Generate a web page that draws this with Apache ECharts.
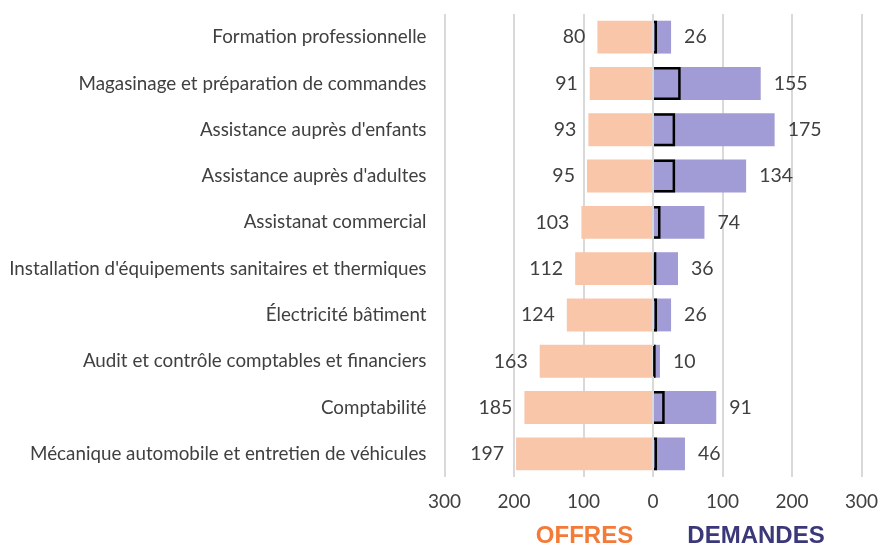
<!DOCTYPE html>
<html>
<head>
<meta charset="utf-8">
<script src="https://cdn.jsdelivr.net/npm/echarts@6/dist/echarts.min.js"></script>
<style>
  html, body { margin: 0; padding: 0; background: #fff; }
  #chart { width: 882px; height: 547px; }
</style>
</head>
<body>
<div id="chart"></div>
<script>
// Métiers, du haut vers le bas
const categories = [
  "Formation professionnelle",
  "Magasinage et préparation de commandes",
  "Assistance auprès d'enfants",
  "Assistance auprès d'adultes",
  "Assistanat commercial",
  "Installation d'équipements sanitaires et thermiques",
  "Électricité bâtiment",
  "Audit et contrôle comptables et financiers",
  "Comptabilité",
  "Mécanique automobile et entretien de véhicules"
];
const offres = [80, 91, 93, 95, 103, 112, 124, 163, 185, 197];
const demandes = [26, 155, 175, 134, 74, 36, 26, 10, 91, 46];
// part des demandes encadrée en noir
const demandesPart = [4, 38, 30, 30, 9, 3, 4, 2, 15, 4];
const axisTicks = [-300, -200, -100, 0, 100, 200, 300];

const FONT = "Lato, 'Open Sans', sans-serif";
const TEXT = "#404040";
const GRID = "#D9D9D9";

const chart = echarts.init(document.getElementById("chart"), null, { renderer: "canvas" });

chart.setOption({
  animation: false,
  backgroundColor: "#ffffff",
  grid: { left: 444.5, right: 20.5, top: 14, bottom: 70, containLabel: false },
  xAxis: {
    type: "value",
    min: axisTicks[0],
    max: axisTicks[axisTicks.length - 1],
    interval: 100,
    axisLine: { show: false },
    axisTick: { show: false },
    splitLine: { show: true, lineStyle: { color: GRID, width: 2 } },
    axisLabel: {
      formatter: v => String(Math.abs(v)),
      fontFamily: FONT, fontSize: 19, color: TEXT, margin: 15
    }
  },
  yAxis: {
    type: "category",
    data: categories,
    inverse: true,
    axisLine: { show: false },
    axisTick: { show: false },
    splitLine: { show: false },
    axisLabel: { fontFamily: FONT, fontSize: 18.8, color: TEXT, margin: 18 }
  },
  series: [
    {
      name: "Offres",
      type: "bar",
      data: offres.map(v => -v),
      barCategoryGap: "29%",
      barGap: "-100%",
      itemStyle: { color: "#F9C6AA" },
      label: {
        show: true, position: "left", distance: 12,
        formatter: p => String(Math.abs(p.value)),
        fontFamily: FONT, fontSize: 19.5, color: TEXT
      }
    },
    {
      name: "Demandes",
      type: "bar",
      data: demandes,
      barCategoryGap: "29%",
      barGap: "-100%",
      itemStyle: { color: "#A19CD6" },
      label: {
        show: true, position: "right", distance: 13,
        fontFamily: FONT, fontSize: 19.5, color: TEXT
      },
      markLine: {
        silent: true, symbol: "none", label: { show: false },
        lineStyle: { color: GRID, width: 2, type: "solid" },
        data: [{ xAxis: 0 }]
      }
    },
    {
      name: "Part",
      type: "custom",
      z: 5,
      data: demandesPart.map((v, i) => [v, i]),
      encode: { x: 0, y: 1 },
      renderItem: function (params, api) {
        const idx = api.value(1);
        const start = api.coord([0, idx]);
        const end = api.coord([api.value(0), idx]);
        const h = api.size([0, 1])[1] * 0.71;
        const inset = 1.25;
        const top = start[1] - h / 2 + inset;
        const bottom = start[1] + h / 2 - inset;
        const x0 = start[0] + 1;
        const x1 = end[0];
        return {
          type: "polyline",
          shape: { points: [[x0, top], [x1, top], [x1, bottom], [x0, bottom]] },
          style: { stroke: "#000000", lineWidth: 2.5, fill: null, lineJoin: "miter" }
        };
      }
    }
  ],
  graphic: [
    {
      type: "text", x: 584.5, y: 536.5,
      style: {
        text: "OFFRES", fill: "#F47A38",
        font: "bold 24px 'Liberation Sans', Arial, sans-serif",
        textAlign: "center", textVerticalAlign: "middle"
      }
    },
    {
      type: "text", x: 756, y: 536.5,
      style: {
        text: "DEMANDES", fill: "#3B3879",
        font: "bold 24px 'Liberation Sans', Arial, sans-serif",
        textAlign: "center", textVerticalAlign: "middle"
      }
    }
  ]
});
</script>
</body>
</html>
